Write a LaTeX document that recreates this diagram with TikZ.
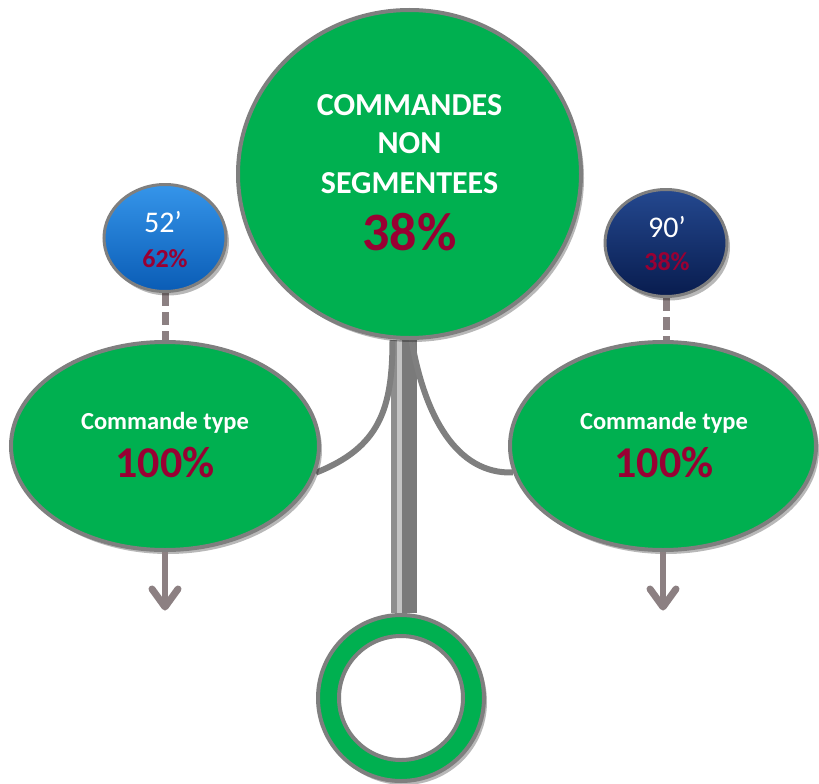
\documentclass[tikz,border=0pt]{standalone}
\usepackage{fontspec}
\setmainfont{Carlito}
\usetikzlibrary{shapes.geometric,shadows}
\definecolor{grn}{HTML}{00B050}
\definecolor{edge}{HTML}{7F7F7F}
\definecolor{wine}{HTML}{990033}
\definecolor{arrowgray}{HTML}{8C8082}
\definecolor{blueA}{HTML}{3595EA}
\definecolor{blueB}{HTML}{0A5CB5}
\definecolor{navyA}{HTML}{24488F}
\definecolor{navyB}{HTML}{081C4E}
\definecolor{stemdark}{HTML}{7A7A7A}
\definecolor{stemlight}{HTML}{C4C4C4}
\pgfdeclarelayer{bg}
\pgfsetlayers{bg,main}
\begin{document}
\begin{tikzpicture}[x=1pt,y=-1pt,
  shad/.style={drop shadow={shadow xshift=3pt,shadow yshift=-4pt,opacity=0.28,fill=black}},
  greenblob/.style={ellipse,draw=edge,line width=4pt,fill=grn,inner sep=0pt,shad},
  ballblue/.style={ellipse,draw=edge,line width=3pt,top color=blueA,bottom color=blueB,inner sep=0pt,minimum width=122pt,minimum height=107pt,shad},
  ballnavy/.style={ellipse,draw=edge,line width=3pt,top color=navyA,bottom color=navyB,inner sep=0pt,minimum width=122pt,minimum height=107pt,shad},
  wtxt/.style={anchor=base,text=white,inner sep=0pt},
  rtxt/.style={anchor=base,text=wine,inner sep=0pt},
  dashlink/.style={draw=arrowgray,line width=7pt,dash pattern=on 13pt off 6pt},
  branch/.style={draw=edge,line width=6pt},
  arrowstem/.style={draw=arrowgray,line width=6pt},
  chev/.style={draw=arrowgray,line width=7pt,line cap=round,line join=round},
]
\useasboundingbox (0,0) rectangle (819,784);

% main nodes
\node[greenblob,minimum width=343pt,minimum height=328pt] (main) at (409.5,174) {};
\node[greenblob,minimum width=308pt,minimum height=208pt] (e1) at (165,446) {};
\node[greenblob,minimum width=306pt,minimum height=208pt] (e2) at (663,446) {};
\node[ballblue] (b52) at (165,238) {};
\node[ballnavy] (b90) at (666,243) {};
\node[circle,draw=edge,line width=4pt,fill=grn,inner sep=0pt,minimum size=166pt,shad] (ring) at (401,698) {};
\node[circle,draw=edge,line width=4pt,fill=white,inner sep=0pt,minimum size=124pt] (ringin) at (401,698) {};

% texts
\node[wtxt,font=\fontsize{32}{32}\selectfont\bfseries] (t1) at (409.5,115) {COMMANDES};
\node[wtxt,font=\fontsize{32}{32}\selectfont\bfseries] (t2) at (409.5,153) {NON};
\node[wtxt,font=\fontsize{32}{32}\selectfont\bfseries] (t3) at (409.5,193) {SEGMENTEES};
\node[rtxt,font=\fontsize{54}{54}\selectfont\bfseries] (t4) at (409.5,250) {38\%};

\node[wtxt,font=\fontsize{30}{30}\selectfont] (s1) at (163,232) {52’};
\node[rtxt,font=\fontsize{26}{26}\selectfont\bfseries] (s2) at (165,267) {62\%};
\node[wtxt,font=\fontsize{30}{30}\selectfont] (s3) at (667,237) {90’};
\node[rtxt,font=\fontsize{26}{26}\selectfont\bfseries] (s4) at (667,270) {38\%};

\node[wtxt,font=\fontsize{24.5}{24.5}\selectfont\bfseries] (c1) at (165,429) {Commande type};
\node[rtxt,font=\fontsize{44}{44}\selectfont\bfseries] (c2) at (165,477) {100\%};
\node[wtxt,font=\fontsize{24.5}{24.5}\selectfont\bfseries] (c3) at (664,429) {Commande type};
\node[rtxt,font=\fontsize{44}{44}\selectfont\bfseries] (c4) at (664,477) {100\%};

% connectors behind
\begin{pgfonlayer}{bg}
  % stem
  \draw[draw=stemdark,line width=15pt] (main.south) -- (main.south |- ring.north);
  \draw[draw=stemlight,line width=5pt] ([xshift=-10pt]main.south) -- ([xshift=-10pt]main.south |- ring.north);
  \draw[draw=stemdark!85!white,line width=6pt] ([xshift=-15.5pt]main.south) -- ([xshift=-15.5pt]main.south |- ring.north);
  % branches
  \draw[branch] ([xshift=-17pt]main.south) .. controls +(0,70) and +(63,-25) .. (e1.-10);
  \draw[branch] ([xshift=2pt]main.south) .. controls +(13,75) and +(-57,2) .. (e2.190);
  % dashed links
  \draw[dashlink] (b52.south) -- (b52.south |- e1.north);
  \draw[dashlink] (b90.south) -- (b90.south |- e2.north);
\end{pgfonlayer}

% down arrows
\draw[arrowstem] (e1.south) -- ++(0,55) coordinate (a1);
\draw[chev] (a1) ++(-13,-18) -- (a1) -- ++(13,-18);
\draw[arrowstem] (e2.south) -- ++(0,55) coordinate (a2);
\draw[chev] (a2) ++(-13,-18) -- (a2) -- ++(13,-18);
\end{tikzpicture}
\end{document}
